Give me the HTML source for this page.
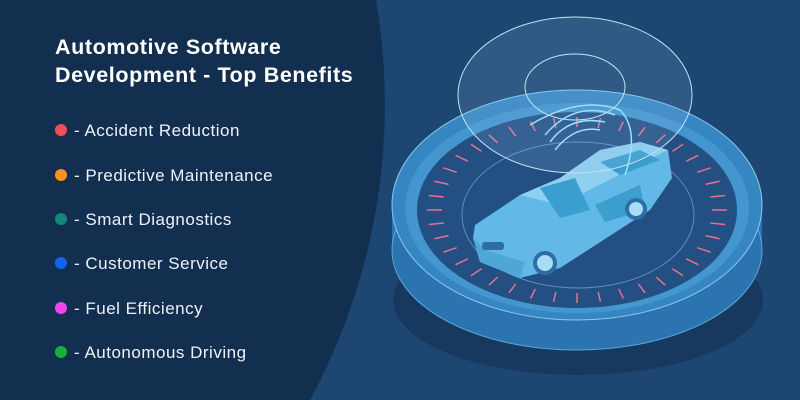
<!DOCTYPE html>
<html><head><style>
body{margin:0;width:800px;height:400px;overflow:hidden;background:#1d4672;font-family:"Liberation Sans",sans-serif}
.t{position:absolute;left:55px;top:33px;color:#fff;font-weight:bold;font-size:21.5px;line-height:28px;letter-spacing:0.6px}
.i{position:absolute;left:55px;color:#eef2f7;font-size:17px;line-height:20px;letter-spacing:0.5px}
.i b{display:inline-block;width:12px;height:12px;border-radius:50%;margin-right:7px;vertical-align:0px}
</style></head><body>
<svg width="800" height="400" style="position:absolute;left:0;top:0">
<path d="M0 0 H376 A620 620 0 0 1 310 400 H0 Z" fill="#132f50"/>
<ellipse cx="578" cy="300" rx="185" ry="75" fill="#17395f"/>
<path d="M392 205 V250 A185 100 0 0 0 762 250 V205 Z" fill="#2c74b0"/>
<ellipse cx="577" cy="250" rx="185" ry="100" fill="none" stroke="#5aa7dc" stroke-width="1"/>
<ellipse cx="577" cy="205" rx="185" ry="115" fill="#3686c2" stroke="#8cc8ee" stroke-width="1"/>
<ellipse cx="577" cy="208" rx="172" ry="105" fill="#4496cf"/>
<ellipse cx="577" cy="210" rx="160" ry="98" fill="#234f82"/>
<g stroke="#e5728c" stroke-width="1.5" id="ticks"></g>
<ellipse cx="578" cy="215" rx="116" ry="73" fill="none" stroke="#5c8fc4" stroke-width="1"/>
<g>
<polygon points="473,238 475,225 520,195 560,178 600,150 640,142 668,150 672,178 650,210 560,268 520,278 480,262" fill="#62b8e6"/>
<polygon points="520,195 560,178 600,150 640,142 668,150 560,205" fill="#8fd0f0"/>
<polygon points="540,188 575,178 590,210 560,218" fill="#3a9ecf"/>
<polygon points="600,162 640,150 660,160 620,175" fill="#3a9ecf"/>
<polygon points="595,205 640,185 645,210 605,222" fill="#3e9ed0"/>
<polygon points="473,238 480,262 520,278 525,262 485,250" fill="#4fa7d8"/>
<rect x="482" y="242" width="22" height="8" rx="3" fill="#2b6e9f"/>
<circle cx="545" cy="263" r="12" fill="#2d6fa4"/><circle cx="545" cy="263" r="8" fill="#a9dcf5"/>
<circle cx="636" cy="209" r="11" fill="#2d6fa4"/><circle cx="636" cy="209" r="7" fill="#a9dcf5"/>
</g>
<g fill="none" stroke="#9be4ff" stroke-width="1.5">
<path d="M555 150 Q575 125 600 130"/><path d="M550 142 Q570 115 605 122"/><path d="M545 135 Q575 100 615 115"/><path d="M530 125 Q580 95 620 110 Q640 130 625 175"/>
</g>
<ellipse cx="575" cy="95" rx="117" ry="78" fill="rgba(150,200,235,0.16)" stroke="#bfe3f5" stroke-width="1"/>
<ellipse cx="575" cy="87" rx="50" ry="33" fill="none" stroke="#bfe3f5" stroke-width="1"/>
</svg>
<div class="t">Automotive Software<br>Development - Top Benefits</div>
<div class="i" style="top:121px"><b style="background:#ef4e55"></b>- Accident Reduction</div>
<div class="i" style="top:166px"><b style="background:#f7931e"></b>- Predictive Maintenance</div>
<div class="i" style="top:210px"><b style="background:#13857a"></b>- Smart Diagnostics</div>
<div class="i" style="top:254px"><b style="background:#1463f0"></b>- Customer Service</div>
<div class="i" style="top:299px"><b style="background:#ee44ee"></b>- Fuel Efficiency</div>
<div class="i" style="top:343px"><b style="background:#1aaf3a"></b>- Autonomous Driving</div>
<script>
var g=document.getElementById('ticks'),s='';
for(var k=0;k<40;k++){var a=k*Math.PI*2/40,c=Math.cos(a),n=Math.sin(a);
s+='<line x1="'+(577+150*c)+'" y1="'+(210+93*n)+'" x2="'+(577+135*c)+'" y2="'+(210+83*n)+'"/>';}
g.innerHTML=s;
</script>
</body></html>
